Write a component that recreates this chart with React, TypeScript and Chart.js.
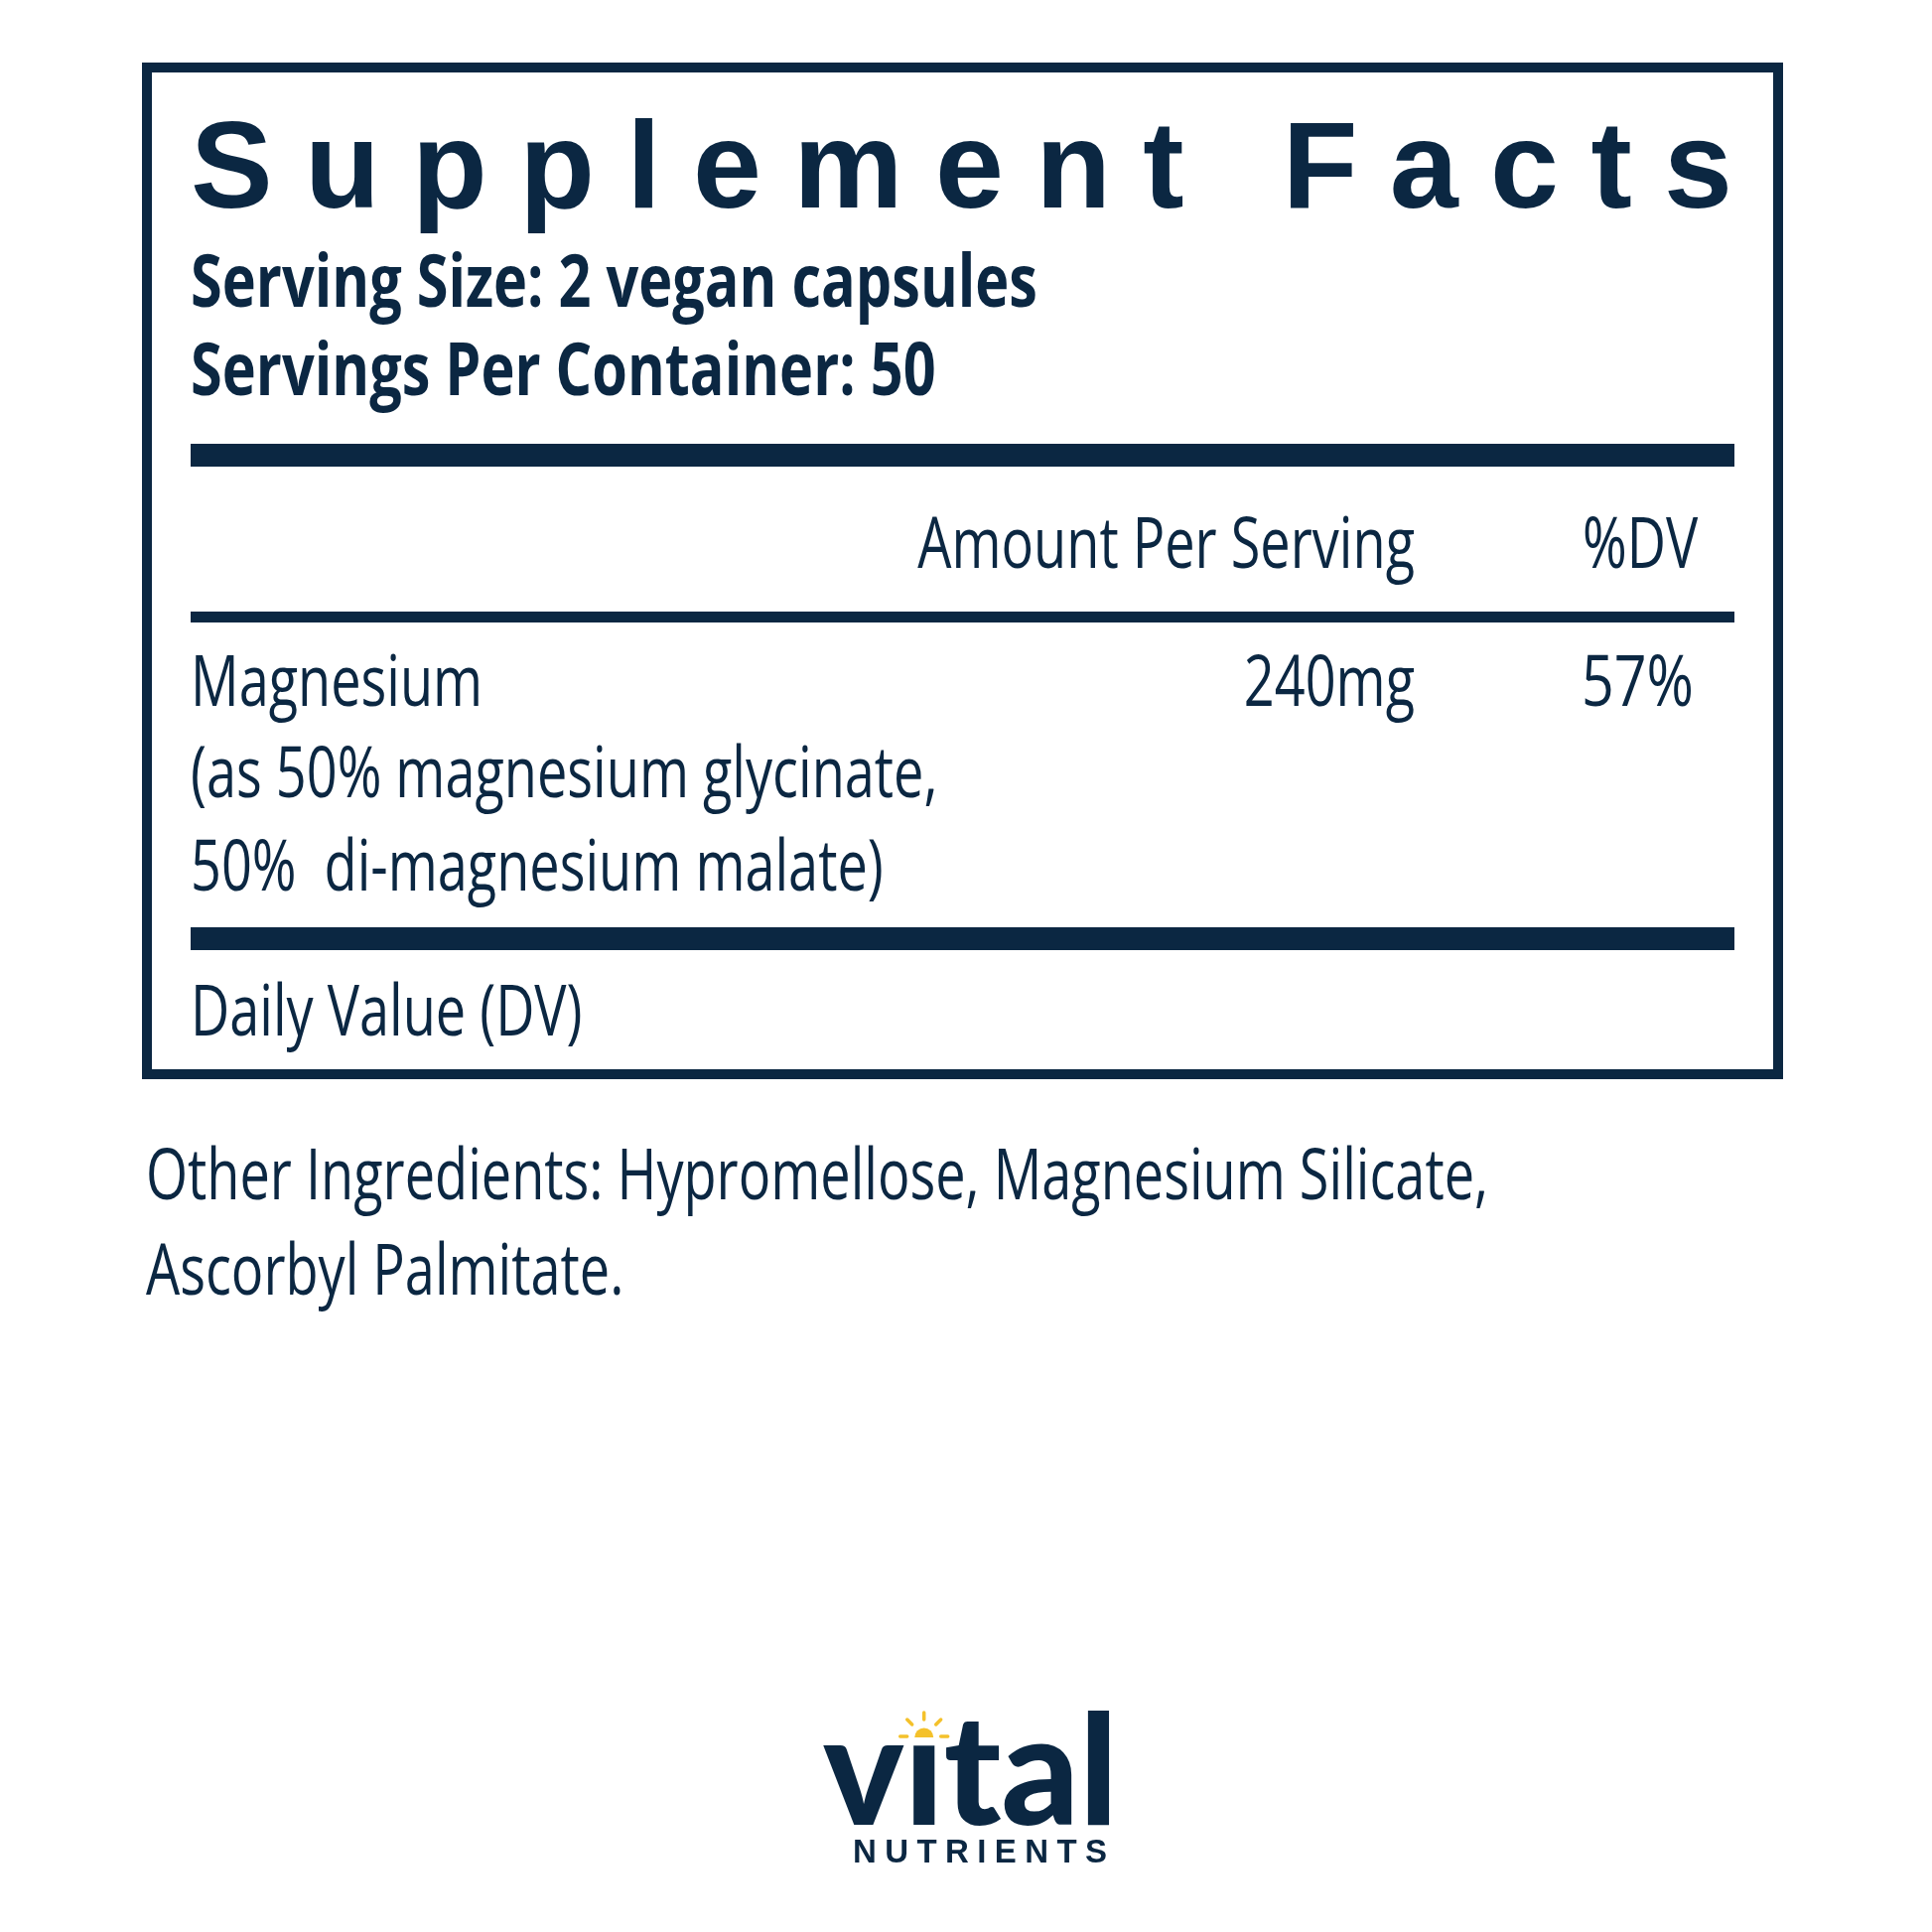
import React, { useEffect, useRef } from "react";
import { Chart, registerables } from "chart.js";

Chart.register(...registerables);

// ---- label content ----
const titleText = "Supplement Facts";
const servingLines = ["Serving Size: 2 vegan capsules", "Servings Per Container: 50"];
const columnHeaders = ["Amount Per Serving", "%DV"];
const nutrientNames = ["Magnesium"];
const nutrientSources = ["(as 50% magnesium glycinate,", "50%  di-magnesium malate)"];
const nutrientAmounts = ["240mg"];
const nutrientDailyValues = ["57%"];
const footnoteText = "Daily Value (DV)";
const otherIngredientLines = [
  "Other Ingredients: Hypromellose, Magnesium Silicate,",
  "Ascorbyl Palmitate.",
];
const brandName = ["v", "\u0131", "tal"];
const brandSub = "NUTRIENTS";

const NAVY = "#0b2742";
const SUN = "#f4c12b";

const labelPlugin = {
  id: "supplementLabel",
  beforeDraw(chart: any) {
    const ctx: CanvasRenderingContext2D = chart.ctx;
    ctx.save();
    ctx.fillStyle = "#ffffff";
    ctx.fillRect(0, 0, chart.width, chart.height);
    ctx.restore();
  },
  afterDraw(chart: any) {
    const ctx: CanvasRenderingContext2D = chart.ctx;
    ctx.save();
    ctx.fillStyle = NAVY;
    ctx.strokeStyle = NAVY;
    ctx.textBaseline = "alphabetic";

    const REG = "400 72px 'Open Sans'";
    const BOLD = "700 74px 'Open Sans'";

    const measure = (t: string, font: string) => {
      ctx.font = font;
      return ctx.measureText(t).width;
    };
    const regF = 1352 / measure(otherIngredientLines[0], REG);
    const boldF = 853 / measure(servingLines[0], BOLD);

    const text = (t: string, x: number, y: number, font: string, f: number, align: CanvasTextAlign = "left") => {
      ctx.save();
      ctx.font = font;
      ctx.textAlign = align;
      ctx.translate(x, y);
      ctx.scale(f, 1);
      ctx.fillText(t, 0, 0);
      ctx.restore();
    };

    const L = 192;
    const R = 1747;

    // outer box
    ctx.lineWidth = 10;
    ctx.strokeRect(148, 68, 1643, 1014);

    // title
    ctx.font = "700 124px 'Liberation Sans'";
    (ctx as any).letterSpacing = "0px";
    const w0 = ctx.measureText(titleText).width;
    const ls = (1553 - w0) / (titleText.length - 1);
    (ctx as any).letterSpacing = ls + "px";
    ctx.textAlign = "left";
    ctx.fillText(titleText, L, 209);
    (ctx as any).letterSpacing = "0px";

    // serving info
    text(servingLines[0], L, 309, BOLD, boldF);
    text(servingLines[1], L, 398, BOLD, boldF);

    // thick bar
    ctx.fillRect(L, 447, R - L, 23);

    // column headers
    text(columnHeaders[0], 1425, 572, REG, regF, "right");
    text(columnHeaders[1], 1594, 572, REG, regF, "left");

    // thin rule
    ctx.fillRect(L, 616, R - L, 11);

    // nutrient rows
    nutrientNames.forEach((name, i) => {
      const y = 711;
      text(name, L, y, REG, regF);
      text(nutrientAmounts[i], 1425, y, REG, regF, "right");
      text(nutrientDailyValues[i], 1593, y, REG, regF * 1.06, "left");
    });
    nutrientSources.forEach((s, i) => {
      text(s, L, 803 + i * 94, REG, regF);
    });

    // thick bar 2
    ctx.fillRect(L, 934, R - L, 23);

    // footnote
    text(footnoteText, L, 1043, REG, regF);

    // other ingredients
    otherIngredientLines.forEach((l, i) => {
      text(l, 147, 1208 + i * 96, REG, regF);
    });

    // brand logo
    const LOGO = "900 154px Lato";
    const full = brandName.join("");
    const logoW = measure(full, LOGO);
    const lx = 829;
    const lf = 297 / logoW;
    text(full, lx, 1838, LOGO, lf);
    const vW = measure(brandName[0], LOGO);
    const iW = measure(brandName[1], LOGO);
    const sunX = lx + lf * (vW + iW / 2);
    const sunY = 1750;
    ctx.fillStyle = SUN;
    ctx.strokeStyle = SUN;
    ctx.beginPath();
    ctx.arc(sunX, sunY, 9.5, Math.PI, 0);
    ctx.closePath();
    ctx.fill();
    ctx.lineWidth = 3.5;
    ctx.lineCap = "round";
    const rays = [180, 225, 270, 315, 360];
    rays.forEach((deg) => {
      const a = (deg * Math.PI) / 180;
      const r1 = 17, r2 = 24;
      ctx.beginPath();
      ctx.moveTo(sunX + Math.cos(a) * r1, sunY + Math.sin(a) * r1 - 1);
      ctx.lineTo(sunX + Math.cos(a) * r2, sunY + Math.sin(a) * r2 - 1);
      ctx.stroke();
    });

    ctx.fillStyle = NAVY;
    ctx.font = "700 33px 'Liberation Sans'";
    (ctx as any).letterSpacing = "0px";
    const sw = ctx.measureText(brandSub).width;
    const sls = (256 - sw) / (brandSub.length - 1);
    (ctx as any).letterSpacing = sls + "px";
    ctx.textAlign = "left";
    ctx.fillText(brandSub, 859, 1876);
    (ctx as any).letterSpacing = "0px";

    ctx.restore();
  },
};

export default function App() {
  const ref = useRef<HTMLCanvasElement | null>(null);
  useEffect(() => {
    let chart: Chart | null = null;
    let cancelled = false;
    const make = () => {
      if (cancelled || !ref.current) return;
      chart = new Chart(ref.current, {
        type: "bar",
        data: { labels: [], datasets: [] },
        options: {
          animation: false,
          responsive: false,
          devicePixelRatio: 1,
          layout: { padding: 0 },
          scales: { x: { display: false }, y: { display: false } },
          plugins: { legend: { display: false }, tooltip: { enabled: false }, title: { display: false } },
        },
        plugins: [labelPlugin],
      });
    };
    (document as any).fonts && (document as any).fonts.ready
      ? (document as any).fonts.ready.then(make)
      : make();
    return () => {
      cancelled = true;
      if (chart) chart.destroy();
    };
  }, []);
  return (
    <div style={{ position: "fixed", left: 0, top: 0, width: 1946, height: 1946, background: "#fff" }}>
      <canvas ref={ref} width={1946} height={1946} style={{ width: 1946, height: 1946, display: "block" }} />
    </div>
  );
}
